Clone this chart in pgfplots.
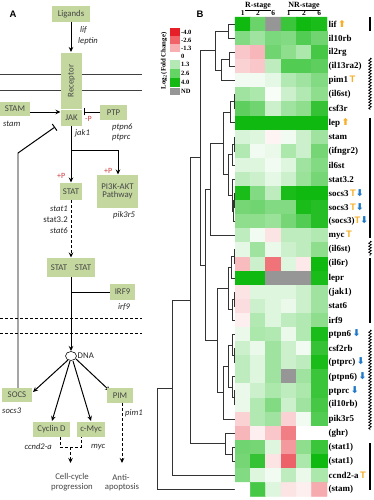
\documentclass[border=0pt]{standalone}
\usepackage{pgfplots}
\pgfplotsset{compat=1.18}
\usepackage{pgfplotstable}
\usepackage{fontspec}
\setmainfont{Liberation Serif}
\newfontfamily\sansA{Carlito}
\newfontfamily\arialf{Liberation Sans}
\newfontfamily\dejavu{DejaVu Sans}
\usetikzlibrary{arrows.meta,decorations.pathmorphing}

\definecolor{boxg}{RGB}{196,215,158}
\definecolor{boxtxt}{RGB}{70,70,70}
\definecolor{redP}{RGB}{205,60,60}
\definecolor{orA}{RGB}{245,175,40}
\definecolor{blA}{RGB}{30,120,200}
\definecolor{c1}{RGB}{230,30,40}
\definecolor{c2}{RGB}{240,100,105}
\definecolor{c3}{RGB}{248,175,178}
\definecolor{c5}{RGB}{180,232,180}
\definecolor{c6}{RGB}{100,212,100}
\definecolor{c7}{RGB}{20,185,20}
\definecolor{cnd}{RGB}{150,150,150}

\newcommand{\up}{\,{\dejavu\fontsize{9.5}{10}\selectfont\color{orA}⬆}}
\newcommand{\inh}{{\arialf\fontsize{9.5}{10}\selectfont\color{orA}T}}
\newcommand{\dn}{{\dejavu\fontsize{9.5}{10}\selectfont\color{blA}⬇}}

\pgfplotstableread{
x y v
0 1 4.0
1 1 2.4
2 1 5
3 1 3.2
4 1 4.0
5 1 3.8
0 2 2.0
1 2 1.5
2 2 2.1
3 2 2.0
4 2 2.8
5 2 2.3
0 3 -1.0
1 3 -1.3
2 3 2.3
3 3 1.8
4 3 1.3
5 3 3.0
0 4 -0.8
1 4 -1.0
2 4 1.0
3 4 2.8
4 4 2.8
5 4 2.6
0 5 0.2
1 5 0.2
2 5 0.4
3 5 1.2
4 5 1.5
5 5 2.0
0 6 1.5
1 6 1.3
2 6 0.1
3 6 0.8
4 6 1.2
5 6 1.8
0 7 2.6
1 7 2.3
2 7 0.8
3 7 1.5
4 7 1.8
5 7 3.3
0 8 4.0
1 8 4.0
2 8 4.0
3 8 4.0
4 8 4.0
5 8 4.0
0 9 0.6
1 9 0.5
2 9 -0.2
3 9 0.2
4 9 0.8
5 9 1.5
0 10 1.2
1 10 0.2
2 10 0.3
3 10 1.3
4 10 0.8
5 10 2.2
0 11 0.5
1 11 0.5
2 11 0.2
3 11 0.5
4 11 1.5
5 11 2.0
0 12 1.0
1 12 0.8
2 12 0.4
3 12 0.8
4 12 1.6
5 12 2.2
0 13 3.8
1 13 2.0
2 13 1.0
3 13 3.8
4 13 4.0
5 13 4.0
0 14 2.2
1 14 2.3
2 14 2.0
3 14 2.0
4 14 3.8
5 14 3.6
0 15 1.8
1 15 1.8
2 15 1.6
3 15 2.2
4 15 2.8
5 15 3.6
0 16 1.0
1 16 0.2
2 16 -0.5
3 16 1.0
4 16 1.0
5 16 1.2
0 17 0.4
1 17 1.5
2 17 0.3
3 17 0.8
4 17 1.0
5 17 1.8
0 18 -1.2
1 18 0.8
2 18 -2.5
3 18 0.5
4 18 -0.4
5 18 4.0
0 19 4.0
1 19 4.0
2 19 5
3 19 5
4 19 5
5 19 3.8
0 20 -0.5
1 20 0.5
2 20 0.5
3 20 0.5
4 20 0.8
5 20 1.5
0 21 -0.6
1 21 0.8
2 21 0.5
3 21 0.3
4 21 0.8
5 21 1.5
0 22 -0.3
1 22 1.2
2 22 0.5
3 22 1.0
4 22 1.2
5 22 1.8
0 23 0.3
1 23 1.3
2 23 1.2
3 23 0.3
4 23 1.2
5 23 3.8
0 24 0.8
1 24 0.3
2 24 1.5
3 24 0.8
4 24 0.2
5 24 3.3
0 25 1.0
1 25 0.5
2 25 1.5
3 25 0.8
4 25 1.0
5 25 3.8
0 26 1.0
1 26 0.5
2 26 1.5
3 26 5
4 26 1.5
5 26 3.2
0 27 0.3
1 27 0.8
2 27 1.3
3 27 1.0
4 27 1.3
5 27 3.2
0 28 0.3
1 28 1.2
2 28 2.0
3 28 0.8
4 28 1.5
5 28 3.0
0 29 -0.8
1 29 1.2
2 29 1.5
3 29 -0.8
4 29 0.2
5 29 2.8
0 30 -1.3
1 30 -0.3
2 30 -1.0
3 30 -2.3
4 30 0.0
5 30 0.0
0 31 2.3
1 31 2.2
2 31 0.5
3 31 -1.8
4 31 1.8
5 31 3.2
0 32 2.2
1 32 3.3
2 32 -0.5
3 32 -2.8
4 32 1.3
5 32 4.0
0 33 2.0
1 33 0.5
2 33 0.2
3 33 1.0
4 33 0.3
5 33 1.3
0 34 0.0
1 34 3.0
2 34 0.5
3 34 -0.5
4 34 -0.3
5 34 -1.5
}\heat

\tikzset{
  bx/.style={fill=boxg},
  bt/.style={font=\sansA\fontsize{8.8}{9.5}\selectfont, text=boxtxt, inner sep=0pt},
  it/.style={font=\sansA\itshape\fontsize{8.6}{9.5}\selectfont, text=black!85, inner sep=0pt},
  pl/.style={font=\sansA\fontsize{8}{8.5}\selectfont, text=redP, inner sep=0pt},
  ln/.style={line width=1pt, black},
  ar/.style={ln, -{Stealth[length=5bp,width=4.5bp]}},
  dar/.style={ar, dashed, dash pattern=on 3bp off 2bp},
  dline/.style={line width=0.6pt, draw=black!80},
  lgt/.style={font=\bfseries\fontsize{6.5}{7}\selectfont, inner sep=0pt, anchor=west},
  hdr/.style={font=\bfseries\fontsize{7.5}{8}\selectfont, anchor=base, inner sep=0pt},
}

\begin{document}
\begin{tikzpicture}[x=1bp,y=-1bp]
\path[use as bounding box, fill=white] (0,0) rectangle (373,500);

%================ Panel A =================
\node[font=\arialf\bfseries\fontsize{9.5}{10}\selectfont, inner sep=0pt] at (13,14) {A};
% membranes
\draw[line width=0.9pt, black!75] (0,74) -- (142,74);
\draw[line width=0.9pt, black!75] (0,90) -- (142,90);
\draw[line width=0.8pt, dash pattern=on 3bp off 2bp] (0,318) -- (142,318);
\draw[line width=0.8pt, dash pattern=on 3bp off 2bp] (0,333) -- (142,333);
% Ligands
\fill[bx] (52,6) rectangle (90,22);
\node[bt] at (71,14) {Ligands};
\draw[ar] (71,22) -- (71,52);
\node[it, anchor=west] at (80,30) {lif};
\node[it, anchor=west] at (78,41) {leptin};
% Receptor + JAK
\fill[bx] (61,53) rectangle (82,109);
\node[bt, rotate=90] at (71.5,81) {Receptor};
\fill[bx] (61,110) rectangle (82,126);
\node[bt] at (71.5,118) {JAK};
% STAM
\fill[bx] (0,102) rectangle (30,116);
\node[bt] at (15,109) {STAM};
\node[it, anchor=west] at (3,124) {stam};
\draw[ar] (30,112) -- (60.5,112);
% PTP
\fill[bx] (100,105) rectangle (127,120);
\node[bt] at (113.5,112.5) {PTP};
\draw[ln, -{Bar[width=7bp]}] (100,112) -- (84,112);
\node[pl, anchor=west] at (85,119) {-P};
\node[it, anchor=west] at (112,127) {ptpn6};
\node[it, anchor=west] at (112,137) {ptprc};
\node[it, anchor=west] at (75,133) {jak1};
% JAK -> STAT and PI3K
\draw[ar] (71,126) -- (71,182.5);
\draw[ar] (71,150) -- (118,150) -- (118,174.5);
\node[pl, anchor=west] at (57,176) {+P};
\node[pl, anchor=west] at (104,171) {+P};
\fill[bx] (60,183) rectangle (82,200);
\node[bt] at (71,191.5) {STAT};
\fill[bx] (97,175) rectangle (138,208);
\node[bt, align=center] at (117.5,191.5) {PI3K-AKT\\[-1bp]Pathway};
\node[it, anchor=west] at (113,215) {pik3r5};
% STAT dimer
\draw[dar] (71,200) -- (71,257.5);
\node[it, anchor=east] at (68,209) {stat1};
\node[bt, text=black!85, anchor=east] at (68,220) {stat3.2};
\node[it, anchor=east] at (68,231) {stat6};
\fill[bx] (47,258) rectangle (70.6,277);
\fill[bx] (71.4,258) rectangle (95,277);
\node[bt] at (59,267.5) {STAT};
\node[bt] at (83,267.5) {STAT};
% IRF9
\draw[ln] (71,292) -- (110,292);
\fill[bx] (110,284) rectangle (135,300);
\node[bt] at (122.5,292) {IRF9};
\node[it, anchor=west] at (118,307) {irf9};
% to DNA
\draw[ar] (71,277) -- (71,351);
\draw[line width=0.6pt, fill=white] (71,356) ellipse [x radius=5.5, y radius=4.5];
\node[bt, text=black!85, anchor=west] at (77.5,356) {DNA};
% SOCS inhibition
\draw[ln, -{Bar[width=8bp]}] (18,388) -- (18,153) -- (55,127);
% DNA arrows
\draw[ar] (68,360) -- (33,392);
\draw[ar] (70,361) -- (52,421);
\draw[ar] (73,361) -- (91,421);
\draw[ar] (76,359) -- (110,391);
\fill[bx] (2,388) rectangle (32,402);
\node[bt] at (17,395) {SOCS};
\node[it, anchor=west] at (2,411) {socs3};
\fill[bx] (107,388) rectangle (133,403);
\node[bt] at (120,395.5) {PIM};
\node[it, anchor=west] at (125,413) {pim1};
\fill[bx] (33,422) rectangle (70,437);
\node[bt] at (51.5,429.5) {Cyclin D};
\fill[bx] (77,422) rectangle (105,437);
\node[bt] at (91,429.5) {c-Myc};
\node[it, anchor=east] at (52,447) {ccnd2-a};
\node[it, anchor=west] at (91,447) {myc};
\draw[ln, dash pattern=on 3bp off 2bp] (60,437) -- (60,447) -- (81,447) -- (81,437);
\draw[dar] (70.5,447) -- (70.5,463);
\draw[dar] (122,403) -- (122,463);
\node[bt] at (72,477) {Cell-cycle};
\node[bt] at (72,487) {progression};
\node[bt] at (121,477) {Anti-};
\node[bt] at (122,487) {apoptosis};

%================ Panel B =================
\node[font=\arialf\bfseries\fontsize{9.5}{10}\selectfont, inner sep=0pt] at (200,14) {B};
% colour key
\fill[c1] (170,28) rectangle (180,36);
\fill[c2] (170,36) rectangle (180,44);
\fill[c3] (170,44) rectangle (180,52);
\fill[c5] (170,60) rectangle (180,69);
\fill[c6] (170,69) rectangle (180,78);
\fill[c7] (170,78) rectangle (180,87);
\fill[cnd] (170,88) rectangle (180,95);
\node[lgt] at (181,32) {-4.0};
\node[lgt] at (181,40) {-2.6};
\node[lgt] at (181,48) {-1.3};
\node[lgt] at (181,56) {0};
\node[lgt] at (181,64.5) {1.3};
\node[lgt] at (181,73.5) {2.6};
\node[lgt] at (181,82.5) {4.0};
\node[lgt] at (181,91.5) {ND};
\node[font=\bfseries\fontsize{6.8}{7}\selectfont, rotate=90, inner sep=0pt] at (164,61) {Log$_2$(Fold Change)};

% side bars
\draw[line width=1.4pt] (370,17) -- (370,31);
\draw[line width=0.7pt, decorate, decoration={zigzag, amplitude=1.3bp, segment length=3bp}] (370,58) -- (370,110);
\draw[line width=1.4pt] (370,118) -- (370,238);
\draw[line width=0.7pt, decorate, decoration={zigzag, amplitude=1.3bp, segment length=3bp}] (370,241) -- (370,256);
\draw[line width=1.4pt] (370,258) -- (370,323);
\draw[line width=0.7pt, decorate, decoration={zigzag, amplitude=1.3bp, segment length=3bp}] (370,330) -- (370,430);
\draw[line width=1.4pt] (370,443) -- (370,490);

% dendrogram
\begin{axis}[at={(157bp,-496.4bp)}, anchor=south west, width=78bp, height=479.4bp,
  scale only axis, xmin=157, xmax=235, ymin=0.5, ymax=34.5, y dir=reverse,
  hide axis, clip=false]
\addplot[dline] coordinates {(235,1)(228,1)(228,2)(235,2)};
\addplot[dline] coordinates {(235,3)(229,3)(229,4)(235,4)};
\addplot[dline] coordinates {(229,3.5)(221,3.5)(221,5)(235,5)};
\addplot[dline] coordinates {(228,1.5)(215,1.5)(215,4.25)(221,4.25)};
\addplot[dline] coordinates {(235,6)(234,6)(234,7)(235,7)};
\addplot[dline] coordinates {(234,6.5)(230,6.5)(230,8)(235,8)};
\addplot[dline] coordinates {(235,9)(234.5,9)(234.5,10)(235,10)};
\addplot[dline] coordinates {(234.5,9.5)(232,9.5)(232,11)(235,11)};
\addplot[dline] coordinates {(235,13)(234.5,13)(234.5,14)(235,14)};
\addplot[dline] coordinates {(234.5,13.5)(233.5,13.5)(233.5,15)(235,15)};
\addplot[dline] coordinates {(235,12)(232,12)(232,14.25)(233.5,14.25)};
\addplot[dline] coordinates {(232,10.25)(228,10.25)(228,13.125)(232,13.125)};
\addplot[dline] coordinates {(230,7.25)(223,7.25)(223,11.6875)(228,11.6875)};
\addplot[dline] coordinates {(223,9.46875)(210.7,9.46875)(210.7,16)(235,16)};
\addplot[dline] coordinates {(235,17)(234,17)(234,18)(235,18)};
\addplot[dline] coordinates {(234,17.5)(231,17.5)(231,19)(235,19)};
\addplot[dline] coordinates {(235,20)(234.5,20)(234.5,21)(235,21)};
\addplot[dline] coordinates {(234.5,20.5)(232,20.5)(232,22)(235,22)};
\addplot[dline] coordinates {(231,18.25)(228,18.25)(228,21.25)(232,21.25)};
\addplot[dline] coordinates {(235,24)(234.5,24)(234.5,25)(235,25)};
\addplot[dline] coordinates {(235,23)(232.5,23)(232.5,24.5)(234.5,24.5)};
\addplot[dline] coordinates {(235,27)(234.5,27)(234.5,28)(235,28)};
\addplot[dline] coordinates {(235,26)(232,26)(232,27.5)(234.5,27.5)};
\addplot[dline] coordinates {(232.5,23.75)(228,23.75)(228,26.75)(232,26.75)};
\addplot[dline] coordinates {(228,25.25)(223,25.25)(223,29)(235,29)};
\addplot[dline] coordinates {(228,19.75)(217,19.75)(217,27.125)(223,27.125)};
\addplot[dline] coordinates {(210.7,12.734)(205,12.734)(205,23.4375)(217,23.4375)};
\addplot[dline] coordinates {(215,2.875)(200,2.875)(200,18.086)(205,18.086)};
\addplot[dline] coordinates {(235,31)(232,31)(232,32)(235,32)};
\addplot[dline] coordinates {(235,30)(225,30)(225,31.5)(232,31.5)};
\addplot[dline] coordinates {(200,10.48)(190,10.48)(190,30.75)(225,30.75)};
\addplot[dline] coordinates {(190,20.615)(172,20.615)(172,33)(235,33)};
\addplot[dline] coordinates {(172,26.81)(157,26.81)(157,34)(235,34)};
\end{axis}

% heatmap
\begin{axis}[at={(235bp,-496.4bp)}, anchor=south west, width=92bp, height=479.4bp,
  scale only axis, xmin=-0.5, xmax=5.5, ymin=0.5, ymax=34.5, y dir=reverse,
  enlargelimits=false, axis line style={draw=none}, xtick=\empty,
  ytick={1,...,34}, yticklabel pos=right, major tick length=0pt,
  yticklabel style={font=\bfseries\fontsize{9}{9.5}\selectfont, anchor=west, inner sep=0pt, xshift=1.5bp},
  yticklabels={{lif\up},{il10rb},{il2rg},{(il13ra2)},{pim1\,\inh},{(il6st)},{csf3r},{lep\up},{stam},{(ifngr2)},{il6st},{stat3.2},{socs3\,\inh\dn},{socs3\,\inh\dn},{(socs3)\inh\dn},{myc\,\inh},{(il6st)},{(il6r)},{lepr},{(jak1)},{stat6},{irf9},{ptpn6\,\dn},{csf2rb},{(ptprc)\,\dn},{(ptpn6)\,\dn},{ptprc\,\dn},{(il10rb)},{pik3r5},{(ghr)},{(stat1)},{(stat1)},{ccnd2-a\,\inh},{(stam)}},
  colormap={hm}{rgb255=(230,30,40) rgb255=(236,86,94) rgb255=(243,143,148) rgb255=(249,199,201) rgb255=(255,255,255) rgb255=(190,236,190) rgb255=(130,218,130) rgb255=(70,200,70) rgb255=(15,185,15) rgb255=(150,150,150)},
  point meta min=-4, point meta max=5, clip=false]
\addplot[matrix plot*, mesh/cols=6, point meta=explicit] table[x=x, y=y, meta=v] {\heat};
\node[hdr, font=\bfseries\fontsize{8}{9}\selectfont] at (axis cs:1,-0.2) {\underline{R-stage}};
\node[hdr, font=\bfseries\fontsize{8}{9}\selectfont] at (axis cs:4,-0.2) {\underline{NR-stage}};
\node[hdr] at (axis cs:0,0.42) {1};
\node[hdr] at (axis cs:1,0.42) {2};
\node[hdr] at (axis cs:2,0.42) {6};
\node[hdr] at (axis cs:3,0.42) {1};
\node[hdr] at (axis cs:4,0.42) {2};
\node[hdr] at (axis cs:5,0.42) {6};
\end{axis}
\end{tikzpicture}
\end{document}
